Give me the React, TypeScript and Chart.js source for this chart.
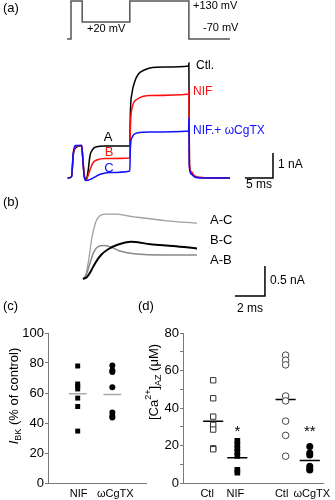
import React, { useEffect, useRef } from 'react';
import { Chart, registerables } from 'chart.js';
Chart.register(...registerables);

const FONT = '"Liberation Sans", Arial, Helvetica, sans-serif';

// ---------- Panel (a): voltage protocol (ms, mV) ----------
const protoT = [-0.7, 0, 0, 2, 2, 10.5, 10.5, 21.05, 21.05, 28.4];
const protoV = [-70, -70, 130, 130, 20, 20, 130, 130, -70, -70];

// ---------- Panel (a): currents (ms, nA) ----------
const ctlT = [-0.6, 0.1, 0.4, 0.8, 1.9, 2.1, 2.35, 2.7, 3.0, 3.4, 3.9, 4.6, 6.0, 10.5, 10.6, 10.9, 11.3, 12.0, 13.2, 14.1, 16.8, 21.0, 21.05, 21.15, 21.5, 22.0, 23.0, 28.4];
const ctlI = [0, 0.05, 0.9, 1.2, 1.3, 0.8, 0.15, -0.05, 0.2, 0.9, 1.15, 1.25, 1.28, 1.28, 2.6, 3.4, 3.8, 4.15, 4.33, 4.4, 4.44, 4.48, 4.6, 0.5, 0.2, 0.08, 0.02, 0];
const nifT = [-0.6, 0.1, 0.4, 0.8, 1.9, 2.1, 2.35, 2.7, 3.2, 3.9, 4.6, 6.1, 10.5, 10.6, 10.9, 11.8, 14.1, 21.0, 21.05, 21.15, 21.5, 22.0, 23.0, 28.4];
const nifI = [0, 0.05, 0.95, 1.25, 1.3, 0.8, 0.1, -0.08, 0.2, 0.6, 0.72, 0.78, 0.8, 2.0, 2.8, 3.15, 3.3, 3.36, 3.5, 0.6, 0.25, 0.1, 0.02, 0];
const cgT = [-0.6, 0.1, 0.4, 0.8, 1.9, 2.1, 2.35, 2.7, 3.5, 5.2, 7.0, 10.5, 10.6, 10.9, 11.8, 14.1, 21.0, 21.05, 21.15, 21.5, 22.0, 23.0, 28.4];
const cgI = [0, 0.05, 1.0, 1.3, 1.3, 0.8, 0.05, -0.1, -0.05, 0.15, 0.22, 0.28, 1.2, 1.62, 1.8, 1.84, 1.88, 2.4, 0.4, 0.15, 0.05, 0, 0];
// scale bar (a): 5 ms, 1 nA
const aBarT = [31.07, 36.07, 36.07];
const aBarI = [0, 0, 1];

// ---------- Panel (b): difference currents (ms, nA) ----------
const acT = [0, 0.2, 0.4, 0.6, 0.85, 1.1, 1.5, 2.1, 3.3, 5.6, 7.6];
const acI = [0, 0.08, 0.35, 0.7, 0.95, 1.05, 1.08, 1.08, 1.04, 0.97, 0.93];
const abT = [0, 0.2, 0.45, 0.7, 1.0, 1.4, 1.8, 2.4, 3.4, 5.6, 7.6];
const abI = [0, 0.06, 0.25, 0.44, 0.54, 0.56, 0.54, 0.47, 0.42, 0.4, 0.4];
const bcT = [0, 0.25, 0.5, 0.8, 1.2, 1.7, 2.3, 3.2, 4.5, 6.0, 7.6];
const bcI = [0, 0.03, 0.12, 0.26, 0.4, 0.5, 0.57, 0.62, 0.58, 0.55, 0.51];
// scale bar (b): 2 ms, 0.5 nA
const bBarT = [10.13, 12.13, 12.13];
const bBarI = [-0.283, -0.283, 0.217];

// ---------- Panel (c): I_BK (% of control) ----------
const cCategories = ['NIF', 'ωCgTX'];
const cNif = [78, 66, 64.5, 62.7, 56.6, 51, 34.6];
const cCg = [78.4, 75, 74, 63.8, 47, 44.7, 43.6];
const cMeans = [59.5, 59];
const cTicks = [0, 20, 40, 60, 80, 100];

// ---------- Panel (d): [Ca2+]AZ (µM) ----------
const dCategories = ['Ctl', 'NIF', 'Ctl', 'ωCgTX'];
const dCtl1 = [54.8, 45.2, 35.4, 31, 28.5, 18.5, 18];
const dNif = [22.5, 20.5, 18.5, 16.5, 14.5, 7, 5.5];
const dCtl2 = [68.2, 65.5, 63, 46.4, 43.8, 33, 25.4, 14.3];
const dCg = [19.5, 16, 15, 9, 7.5, 7];
const dMeans = [33, 13.5, 44.6, 12];
const dStars = ['', '*', '', '**'];
const dStarLevel = 29;

const pts = (xs: number[], ys: number[]) => xs.map((x, i) => ({ x, y: ys[i] }));
const col = (x: number, ys: number[]) => ys.map((y) => ({ x, y }));

type Lbl = { t: string; x: number; y: number; c?: string; f?: number; a?: CanvasTextAlign };

const labelPlugin = (labels: Lbl[]) => ({
  id: 'lbls',
  afterDraw(chart: any) {
    const ctx = chart.ctx;
    ctx.save();
    ctx.textBaseline = 'middle';
    for (const l of labels) {
      ctx.fillStyle = l.c || '#000';
      ctx.font = `${l.f || 12}px ${FONT}`;
      ctx.textAlign = l.a || 'left';
      ctx.fillText(l.t, l.x, l.y);
    }
    ctx.restore();
  },
});

type Piece = { t: string; italic?: boolean; sub?: boolean; sup?: boolean };
const yTitlePlugin = (pieces: Piece[], cx: number, cy: number, size: number) => ({
  id: 'ytitle',
  afterDraw(chart: any) {
    const ctx = chart.ctx;
    ctx.save();
    ctx.translate(cx, cy);
    ctx.rotate(-Math.PI / 2);
    ctx.fillStyle = '#000';
    ctx.textBaseline = 'middle';
    ctx.textAlign = 'left';
    const fontOf = (p: Piece) => `${p.italic ? 'italic ' : ''}${p.sub || p.sup ? Math.round(size * 0.7) : size}px ${FONT}`;
    let total = 0;
    for (const p of pieces) { ctx.font = fontOf(p); total += ctx.measureText(p.t).width; }
    let x = -total / 2;
    for (const p of pieces) {
      ctx.font = fontOf(p);
      const dy = p.sub ? size * 0.35 : p.sup ? -size * 0.4 : 0;
      ctx.fillText(p.t, x, dy);
      x += ctx.measureText(p.t).width;
    }
    ctx.restore();
  },
});

export default function App() {
  const r1 = useRef<HTMLCanvasElement>(null);
  const r2 = useRef<HTMLCanvasElement>(null);
  const r3 = useRef<HTMLCanvasElement>(null);

  useEffect(() => {
    Chart.defaults.font.family = FONT;
    const W = 335, H = 320;
    // pixel mapping anchors for panels (a) and (b)
    const aX0 = 71, aPxMs = 5.6, aY0 = 178, aPxNA = 25;
    const vY0 = 39, vPxMV = 0.19;
    const bX0 = 83, bPxMs = 15, bY0 = 279, bPxNA = 60;

    const line = (data: any[], color: string, w: number, xa: string, ya: string, mono = true) => ({
      type: 'line' as const,
      data,
      borderColor: color,
      borderWidth: w,
      pointRadius: 0,
      fill: false,
      xAxisID: xa,
      yAxisID: ya,
      cubicInterpolationMode: mono ? ('monotone' as const) : ('default' as const),
      tension: 0,
    });

    const c1 = new Chart(r1.current!, {
      type: 'line',
      data: {
        datasets: [
          line(pts(cgT, cgI), '#1010ff', 1.5, 'xa', 'ya'),
          line(pts(nifT, nifI), '#ff1010', 1.5, 'xa', 'ya'),
          line(pts(ctlT, ctlI), '#000', 1.5, 'xa', 'ya'),
          line(pts(protoT, protoV), '#555', 1.5, 'xa', 'yv', false),
          line(pts(aBarT, aBarI), '#000', 1.5, 'xa', 'ya', false),
          line(pts(bcT, bcI), '#000', 2, 'xb', 'yb'),
          line(pts(abT, abI), '#8a8a8a', 1.5, 'xb', 'yb'),
          line(pts(acT, acI), '#a0a0a0', 1.3, 'xb', 'yb'),
          line(pts(bBarT, bBarI), '#000', 1.5, 'xb', 'yb', false),
        ] as any,
      },
      options: {
        responsive: false,
        animation: false,
        layout: { padding: 0 },
        plugins: { legend: { display: false }, tooltip: { enabled: false } },
        scales: {
          xa: { type: 'linear', display: false, min: -aX0 / aPxMs, max: (W - aX0) / aPxMs },
          ya: { type: 'linear', display: false, min: (aY0 - H) / aPxNA, max: aY0 / aPxNA },
          yv: { type: 'linear', display: false, min: (vY0 - H) / vPxMV - 70, max: vY0 / vPxMV - 70 },
          xb: { type: 'linear', display: false, min: -bX0 / bPxMs, max: (W - bX0) / bPxMs },
          yb: { type: 'linear', display: false, min: (bY0 - H) / bPxNA, max: bY0 / bPxNA },
        } as any,
      },
      plugins: [
        labelPlugin([
          { t: '(a)', x: 3, y: 8, f: 13 },
          { t: '+130 mV', x: 193, y: 6, f: 11 },
          { t: '-70 mV', x: 203, y: 28, f: 11 },
          { t: '+20 mV', x: 87, y: 29, f: 11 },
          { t: 'Ctl.', x: 196, y: 66, f: 12 },
          { t: 'NIF', x: 193, y: 92, f: 12, c: '#ff1010' },
          { t: 'NIF.+ ωCgTX', x: 193, y: 131, f: 12, c: '#1010ff' },
          { t: 'A', x: 108, y: 137, f: 13, a: 'center' },
          { t: 'B', x: 109, y: 152, f: 13, a: 'center', c: '#ff1010' },
          { t: 'C', x: 109, y: 168, f: 13, a: 'center', c: '#1010ff' },
          { t: '1 nA', x: 278, y: 165, f: 12 },
          { t: '5 ms', x: 259, y: 185, f: 12, a: 'center' },
          { t: '(b)', x: 3, y: 202, f: 13 },
          { t: 'A-C', x: 210, y: 220, f: 13 },
          { t: 'B-C', x: 210, y: 240, f: 13 },
          { t: 'A-B', x: 210, y: 260, f: 13 },
          { t: '0.5 nA', x: 270, y: 281, f: 12 },
          { t: '2 ms', x: 250, y: 309, f: 12, a: 'center' },
          { t: '(c)', x: 3, y: 306, f: 13 },
          { t: '(d)', x: 138, y: 306, f: 13 },
        ]),
      ],
    });

    const axisColor = '#7a7a7a';
    const catTicks = (vals: number[], names: string[], h: number) => ({
      type: 'linear',
      min: 0,
      afterBuildTicks: (s: any) => { s.ticks = vals.map((v) => ({ value: v })); },
      afterFit: (s: any) => { s.height = h; },
      grid: { display: false, drawTicks: false },
      border: { display: true, color: axisColor, width: 1 },
      ticks: {
        autoSkip: false,
        maxRotation: 0,
        padding: 4,
        color: '#000',
        font: { size: 11 },
        callback: (v: any) => { const i = vals.indexOf(v); return i >= 0 ? names[i] : ''; },
      },
    });

    // ---------- Panel (c) ----------
    const cX = [30, 65];
    const cHalf = 9;
    const meanLine = (x: number, m: number, half: number, color: string) => ({
      type: 'line' as const,
      data: [{ x: x - half, y: m }, { x: x + half, y: m }],
      borderColor: color,
      borderWidth: 1.5,
      pointRadius: 0,
      showLine: true,
    });
    const c2 = new Chart(r2.current!, {
      type: 'scatter',
      data: {
        datasets: [
          { data: col(cX[0], cNif), pointStyle: 'rect', pointRadius: 3.5, backgroundColor: '#000', borderColor: '#000', borderWidth: 0 },
          { data: col(cX[1], cCg), pointStyle: 'circle', pointRadius: 3, backgroundColor: '#000', borderColor: '#000', borderWidth: 0 },
          meanLine(cX[0], cMeans[0], cHalf, '#aaa'),
          meanLine(cX[1], cMeans[1], cHalf, '#aaa'),
        ] as any,
      },
      options: {
        responsive: false,
        animation: false,
        layout: { padding: { top: 13, right: 2, left: 0, bottom: 0 } },
        plugins: { legend: { display: false }, tooltip: { enabled: false } },
        scales: {
          x: { ...catTicks([31, 68], cCategories, 17), max: 99 },
          y: {
            type: 'linear',
            min: 0,
            max: 100,
            afterBuildTicks: (s: any) => { s.ticks = cTicks.map((v) => ({ value: v })); },
            afterFit: (s: any) => { s.width = 48; },
            grid: { drawOnChartArea: false, drawTicks: true, tickLength: 3, color: axisColor },
            border: { display: true, color: axisColor, width: 1 },
            ticks: { padding: 1, color: '#000', font: { size: 13 } },
          },
        } as any,
      },
      plugins: [yTitlePlugin([{ t: 'I', italic: true }, { t: 'BK', sub: true }, { t: ' (% of control)' }], 14, 76, 13)],
    });

    // ---------- Panel (d) ----------
    const dX = [30, 54, 102, 126];
    const dHalf = 10;
    const c3 = new Chart(r3.current!, {
      type: 'scatter',
      data: {
        datasets: [
          { data: col(dX[0], dCtl1), pointStyle: 'rect', pointRadius: 3.8, backgroundColor: '#fff', borderColor: '#333', borderWidth: 1 },
          { data: col(dX[1], dNif), pointStyle: 'rect', pointRadius: 4, backgroundColor: '#000', borderColor: '#000', borderWidth: 0 },
          { data: col(dX[2], dCtl2), pointStyle: 'circle', pointRadius: 3.3, backgroundColor: '#fff', borderColor: '#444', borderWidth: 1 },
          { data: col(dX[3], dCg), pointStyle: 'circle', pointRadius: 3.5, backgroundColor: '#000', borderColor: '#000', borderWidth: 0 },
          ...dMeans.map((m, i) => meanLine(dX[i], m, dHalf, '#000')),
        ] as any,
      },
      options: {
        responsive: false,
        animation: false,
        layout: { padding: { top: 13, right: 10, left: 0, bottom: 0 } },
        plugins: { legend: { display: false }, tooltip: { enabled: false } },
        scales: {
          x: { ...catTicks([24, 52, 98, 128], dCategories, 17), max: 140 },
          y: {
            type: 'linear',
            min: 0,
            max: 80,
            ticks: {
              stepSize: 10,
              padding: 1,
              color: '#000',
              font: { size: 13 },
              callback: (v: any) => (v % 20 === 0 ? String(v) : ''),
            },
            afterFit: (s: any) => { s.width = 43; },
            grid: { drawOnChartArea: false, drawTicks: true, tickLength: 3, color: axisColor },
            border: { display: true, color: axisColor, width: 1 },
          },
        } as any,
      },
      plugins: [
        yTitlePlugin([{ t: '[Ca' }, { t: '2+', sup: true }, { t: ']' }, { t: 'AZ', sub: true }, { t: ' (μM)' }], 14, 62, 13),
        {
          id: 'stars',
          afterDraw(chart: any) {
            const ctx = chart.ctx;
            const xs = chart.scales.x, ys = chart.scales.y;
            ctx.save();
            ctx.fillStyle = '#000';
            ctx.font = `15px ${FONT}`;
            ctx.textAlign = 'center';
            ctx.textBaseline = 'middle';
            dStars.forEach((s, i) => { if (s) ctx.fillText(s, xs.getPixelForValue(dX[i]), ys.getPixelForValue(dStarLevel) + 3); });
            ctx.restore();
          },
        },
      ],
    });

    return () => { c1.destroy(); c2.destroy(); c3.destroy(); };
  }, []);

  return (
    <div style={{ position: 'relative', width: 335, height: 500, background: '#fff' }}>
      <style>{'body{margin:0;}'}</style>
      <canvas ref={r1} width={335} height={320} style={{ position: 'absolute', left: 0, top: 0 }} />
      <canvas ref={r2} width={150} height={180} style={{ position: 'absolute', left: 0, top: 320 }} />
      <canvas ref={r3} width={195} height={180} style={{ position: 'absolute', left: 140, top: 320 }} />
    </div>
  );
}
